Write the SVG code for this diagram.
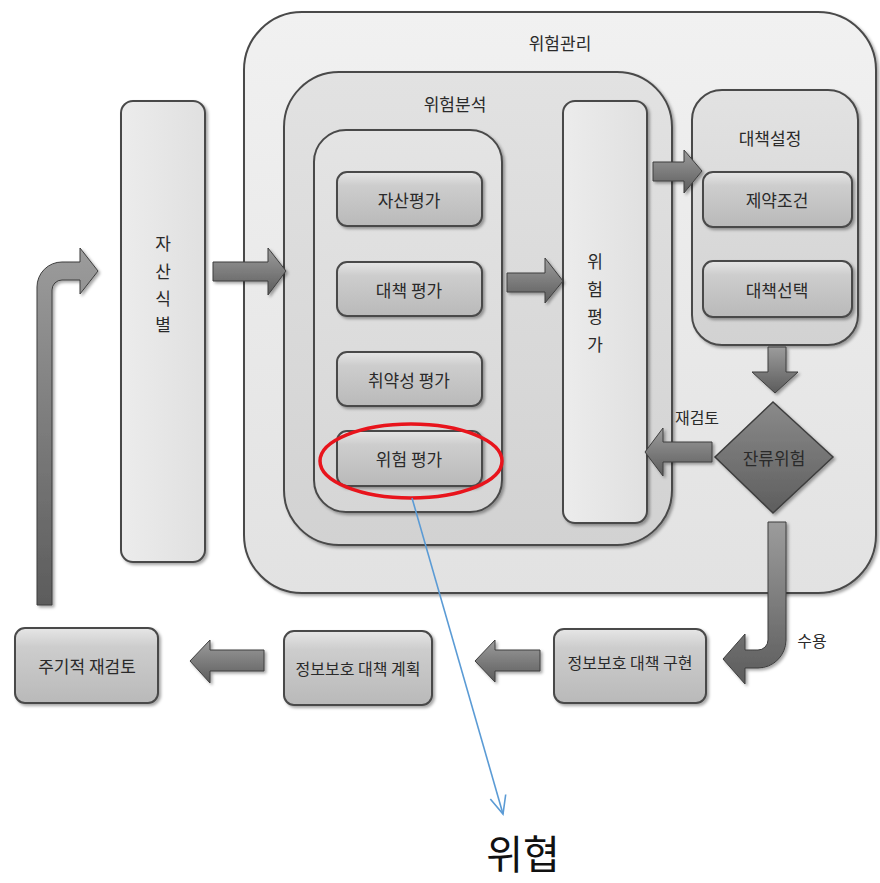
<svg xmlns="http://www.w3.org/2000/svg" width="880" height="883" viewBox="0 0 880 883">
<defs>
<style>
.t{font-family:"Noto Sans CJK KR","Noto Sans",sans-serif;fill:#2a2a2a;text-anchor:middle;dominant-baseline:central}
.lbl{font-size:17px}
.sm{font-size:16px}
.box{stroke:#4a4a4a;stroke-width:2;filter:url(#sh)}
.arrow{fill:url(#gArrow);stroke:#3e3e3e;stroke-width:1;filter:url(#sh)}
</style>
<filter id="sh" x="-10%" y="-10%" width="130%" height="130%">
<feDropShadow dx="2" dy="2" stdDeviation="1.5" flood-color="#000" flood-opacity="0.35"/>
</filter>
<linearGradient id="gOuter" x1="0" y1="0" x2="0" y2="1"><stop offset="0" stop-color="#f1f1f1"/><stop offset="1" stop-color="#e2e2e2"/></linearGradient>
<linearGradient id="gMid" x1="0" y1="0" x2="0" y2="1"><stop offset="0" stop-color="#e2e2e2"/><stop offset="1" stop-color="#d2d2d2"/></linearGradient>
<linearGradient id="gInner" x1="0" y1="0" x2="0" y2="1"><stop offset="0" stop-color="#e4e4e4"/><stop offset="1" stop-color="#d6d6d6"/></linearGradient>
<linearGradient id="gItem" x1="0" y1="0" x2="0" y2="1"><stop offset="0" stop-color="#e6e6e6"/><stop offset="0.25" stop-color="#cdcdcd"/><stop offset="1" stop-color="#b9b9b9"/></linearGradient>
<linearGradient id="gTall" x1="0" y1="0" x2="1" y2="0"><stop offset="0" stop-color="#ececec"/><stop offset="1" stop-color="#e0e0e0"/></linearGradient>
<linearGradient id="gArrow" x1="0" y1="0" x2="0" y2="1"><stop offset="0" stop-color="#9c9c9c"/><stop offset="1" stop-color="#5c5c5c"/></linearGradient>
<linearGradient id="gDiamond" x1="0" y1="0" x2="0" y2="1"><stop offset="0" stop-color="#8a8a8a"/><stop offset="1" stop-color="#5e5e5e"/></linearGradient>
<marker id="openArrow" markerWidth="24" markerHeight="24" refX="20" refY="12" orient="auto" markerUnits="userSpaceOnUse">
<polyline points="2,4 20,12 2,20" fill="none" stroke="#5b9bd5" stroke-width="1.6"/>
</marker>
</defs>

<rect width="880" height="883" fill="#ffffff"/>

<g id="risk-management">
<rect class="box" x="244" y="12" width="632" height="581" rx="58" fill="url(#gOuter)"/>
<text class="t lbl" x="560" y="42">위험관리</text>
</g>

<g id="risk-analysis">
<rect class="box" x="284" y="72" width="388" height="473" rx="55" fill="url(#gMid)"/>
<text class="t lbl" x="455" y="103">위험분석</text>
</g>

<g id="analysis-items">
<rect class="box" x="314" y="130" width="188" height="382" rx="32" fill="url(#gInner)"/>
</g>

<g id="asset-eval">
<rect class="box" x="337" y="172" width="145" height="54" rx="10" fill="url(#gItem)"/>
<text class="t lbl" x="409" y="199">자산평가</text>
</g>
<g id="control-eval">
<rect class="box" x="337" y="262" width="145" height="54" rx="10" fill="url(#gItem)"/>
<text class="t lbl" x="409" y="289">대책 평가</text>
</g>
<g id="vuln-eval">
<rect class="box" x="337" y="352" width="145" height="54" rx="10" fill="url(#gItem)"/>
<text class="t lbl" x="409" y="379">취약성 평가</text>
</g>
<g id="risk-eval-item">
<rect class="box" x="337" y="431" width="145" height="55" rx="10" fill="url(#gItem)"/>
<text class="t lbl" x="409" y="458">위험 평가</text>
</g>

<g id="risk-eval">
<rect class="box" x="563" y="101" width="84" height="422" rx="12" fill="url(#gTall)"/>
<text class="t lbl" x="595" y="260">위</text>
<text class="t lbl" x="595" y="288">험</text>
<text class="t lbl" x="595" y="315">평</text>
<text class="t lbl" x="595" y="343">가</text>
</g>

<g id="asset-id">
<rect class="box" x="121" y="101" width="84" height="461" rx="12" fill="url(#gTall)"/>
<text class="t lbl" x="163" y="242">자</text>
<text class="t lbl" x="163" y="270">산</text>
<text class="t lbl" x="163" y="297">식</text>
<text class="t lbl" x="163" y="323">별</text>
</g>

<g id="control-setting">
<rect class="box" x="692" y="90" width="166" height="255" rx="30" fill="url(#gMid)"/>
<text class="t lbl" x="770" y="137">대책설정</text>
</g>
<g id="constraints">
<rect class="box" x="703" y="172" width="149" height="55" rx="10" fill="url(#gItem)"/>
<text class="t lbl" x="777" y="199">제약조건</text>
</g>
<g id="control-select">
<rect class="box" x="703" y="261" width="149" height="56" rx="10" fill="url(#gItem)"/>
<text class="t lbl" x="777" y="289">대책선택</text>
</g>

<g id="residual-risk">
<polygon points="773,402 833,457 773,513 715,457" fill="url(#gDiamond)" stroke="#3e3e3e" stroke-width="1.5" filter="url(#sh)"/>
<text class="t lbl" x="774" y="457">잔류위험</text>
</g>

<g id="periodic-review">
<rect class="box" x="15" y="628" width="143" height="75" rx="10" fill="url(#gItem)"/>
<text class="t lbl" x="87" y="665">주기적 재검토</text>
</g>
<g id="protect-plan">
<rect class="box" x="284" y="631" width="148" height="74" rx="10" fill="url(#gItem)"/>
<text class="t sm" x="358" y="668">정보보호 대책 계획</text>
</g>
<g id="protect-impl">
<rect class="box" x="554" y="629" width="152" height="74" rx="10" fill="url(#gItem)"/>
<text class="t sm" x="630" y="662">정보보호 대책 구현</text>
</g>

<g id="connectors">
<path class="arrow" d="M213,262 H268 V248 L286,271 L268,295 V281 H213 Z"/>
<path class="arrow" d="M507,273 H545 V258 L563,281 L545,303 V292 H507 Z"/>
<path class="arrow" d="M653,162 H684 V150 L702,171 L684,193 V181 H653 Z"/>
<path class="arrow" d="M768,347 H786 V372 H798 L775,393 L752,372 H768 Z"/>
<path class="arrow" d="M712,442 H663 V428 L645,452 L663,476 V462 H712 Z"/>
<path class="arrow" d="M768,522 H786 V640 A28,28 0 0 1 758,668 H745 V684 L723,659 L745,634 V650 H758 A10,10 0 0 0 768,640 Z"/>
<path class="arrow" d="M540,650 H495 V640 L475,661 L495,682 V671 H540 Z"/>
<path class="arrow" d="M264,650 H210 V640 L190,661 L210,683 V671 H264 Z"/>
<path class="arrow" d="M37,605 V287 A25,25 0 0 1 62,262 H80 V248 L98,271 L80,294 V280 H62 A10,10 0 0 0 52,290 V605 Z"/>
<text class="t sm" x="697" y="417">재검토</text>
<text class="t sm" x="812" y="640">수용</text>
</g>

<g id="highlight">
<ellipse cx="411" cy="461" rx="91" ry="37" fill="none" stroke="#e8141c" stroke-width="3.5"/>
<line x1="412" y1="498" x2="503" y2="814" stroke="#5b9bd5" stroke-width="1.6" marker-end="url(#openArrow)"/>
</g>

<g id="threat">
<text x="523" y="852" style="font-family:'Noto Sans CJK KR','Noto Sans',sans-serif;font-size:40px;fill:#111;text-anchor:middle;dominant-baseline:central">위협</text>
</g>
</svg>
